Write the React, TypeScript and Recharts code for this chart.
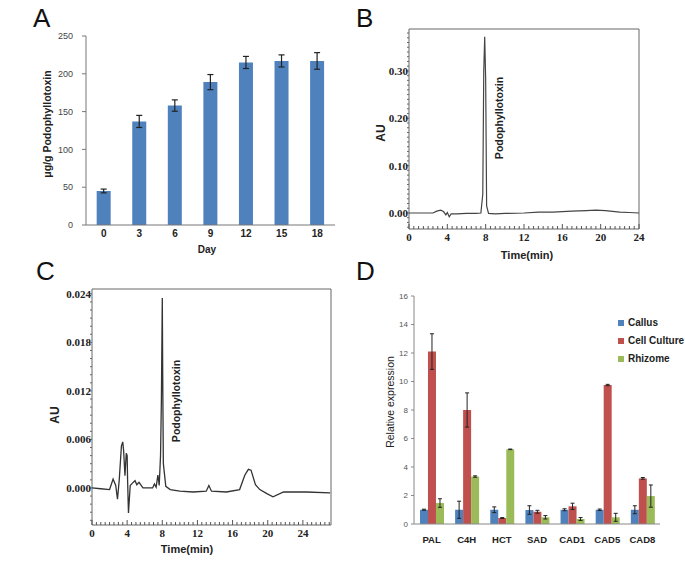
import React from "react";
import {
  BarChart, Bar, XAxis, YAxis, ErrorBar, LineChart, Line, ReferenceArea, Legend,
} from "recharts";

const SANS = "'Liberation Sans', Arial, sans-serif";
const SERIF = "'Liberation Serif', 'Times New Roman', serif";

// A - podophyllotoxin content over days
const days = ["0", "3", "6", "9", "12", "15", "18"];
const podoContent = [45, 137, 158, 189, 215, 217, 217];
const podoErr = [2.5, 8, 7.5, 10, 8, 8, 11];
const podoTicks = [0, 50, 100, 150, 200, 250];

// B - standard chromatogram
const stdTime = [0, 1, 2, 2.5, 2.9, 3.3, 3.6, 3.85, 4.0, 4.2, 4.4, 5, 6, 7, 7.5, 7.7, 7.8, 7.9, 8.0, 8.1, 8.3, 9, 10, 12, 13.5, 15, 17, 18.5, 19.5, 20.5, 22, 23, 24];
const stdAU = [0, 0, 0, 0, 0.004, 0.006, 0.003, -0.004, 0.001, -0.008, -0.002, -0.002, -0.001, -0.001, 0, 0.04, 0.298, 0.372, 0.282, 0.015, -0.001, -0.002, -0.001, 0, 0.002, 0.002, 0.004, 0.005, 0.006, 0.005, 0.002, 0.001, 0];
const stdXMajor = [0, 4, 8, 12, 16, 20, 24];
const stdYMajor = [0, 0.1, 0.2, 0.3];

// C - cell culture extract chromatogram
const extTime = [0, 1, 2, 2.4, 2.7, 2.9, 3.1, 3.35, 3.5, 3.6, 3.75, 3.9, 4.0, 4.05, 4.15, 4.35, 4.6, 4.9, 5.1, 5.35, 5.8, 6.5, 6.9, 7.1, 7.3, 7.5, 7.65, 7.8, 7.9, 8.0, 8.05, 8.12, 8.4, 8.9, 10, 11.5, 13, 13.3, 13.6, 15.3, 16.8, 17.4, 17.8, 18.1, 18.6, 19.1, 19.9, 20.6, 21.8, 22.9, 24.4, 27.1];
const extAU = [0, -0.0001, -0.0002, 0.0011, 0.0003, -0.0014, 0.001, 0.0052, 0.0057, 0.0046, 0.0015, 0.0043, 0.004, 0.001, -0.0031, 0.0003, 0.0006, 0.0009, 0.0004, 0.0007, 0, 0, 0, 0.0005, 0.0001, 0.0016, 0.0003, 0.004, 0.011, 0.0235, 0.0135, 0.003, 0.0002, -0.0002, -0.0004, -0.0005, -0.0004, 0.0003, -0.0004, -0.0005, -0.0002, 0.0016, 0.0023, 0.0022, 0.0004, -0.0002, -0.0007, -0.0011, -0.0005, -0.0005, -0.0005, -0.0006];
const extXMajor = [0, 4, 8, 12, 16, 20, 24];
const extYMajor = [0, 0.006, 0.012, 0.018, 0.024];

// D - relative expression
const genes = ["PAL", "C4H", "HCT", "SAD", "CAD1", "CAD5", "CAD8"];
const callus = [1, 1, 1, 0.98, 1, 1, 1];
const callusErr = [0.04, 0.6, 0.2, 0.3, 0.07, 0.05, 0.28];
const cellCulture = [12.1, 8.0, 0.42, 0.86, 1.24, 9.75, 3.2];
const cellCultureErr = [1.25, 1.2, 0.03, 0.1, 0.22, 0.05, 0.06];
const rhizome = [1.47, 3.33, 5.24, 0.47, 0.35, 0.47, 1.96];
const rhizomeErr = [0.3, 0.05, 0.02, 0.12, 0.1, 0.28, 0.78];
const exprTicks = [0, 2, 4, 6, 8, 10, 12, 14, 16];

const podoData = days.map((d, i) => ({ day: d, value: podoContent[i], err: podoErr[i] }));
const stdData = stdTime.map((t, i) => ({ t, au: stdAU[i] }));
const extData = extTime.map((t, i) => ({ t, au: extAU[i] }));
const exprData = genes.map((g, i) => ({
  gene: g,
  callus: callus[i], callusErr: callusErr[i],
  cell: cellCulture[i], cellErr: cellCultureErr[i],
  rhizome: rhizome[i], rhizomeErr: rhizomeErr[i],
}));

// minor tick positions for the chromatograms
function steps(start: number, stop: number, step: number) {
  const out: number[] = [];
  for (let i = 0; start + i * step <= stop + 1e-9; i++) out.push(Math.round((start + i * step) * 1e6) / 1e6);
  return out;
}
const isMajor = (majors: number[], v: number) => majors.some((m) => Math.abs(m - v) < 1e-7);

function xTick(majors: number[], fmt: (v: number) => string) {
  return (p: any) => {
    const v = p.payload.value;
    const major = isMajor(majors, v);
    return (
      <g>
        <line x1={p.x} x2={p.x} y1={p.y} y2={p.y - (major ? 5 : 3)} stroke="#555" strokeWidth={1} />
        {major && (
          <text x={p.x} y={p.y + 12} textAnchor="middle" fontFamily={SERIF} fontWeight="bold" fontSize={11} fill="#222">
            {fmt(v)}
          </text>
        )}
      </g>
    );
  };
}

function yTick(majors: number[], fmt: (v: number) => string) {
  return (p: any) => {
    const v = p.payload.value;
    const major = isMajor(majors, v);
    return (
      <g>
        <line x1={p.x} x2={p.x - (major ? 3 : 2)} y1={p.y} y2={p.y} stroke="#666" strokeWidth={1} />
        {major && (
          <text x={p.x - 1} y={p.y + 4} textAnchor="end" fontFamily={SERIF} fontWeight="bold" fontSize={11} fill="#222">
            {fmt(v)}
          </text>
        )}
      </g>
    );
  };
}

function Caption({ x, y, text, rotate = false, style }: { x: number; y: number; text: string; rotate?: boolean; style?: React.CSSProperties }) {
  return (
    <div
      style={{
        position: "absolute", left: x, top: y, whiteSpace: "nowrap", lineHeight: 1,
        transform: `translate(-50%, -50%)${rotate ? " rotate(-90deg)" : ""}`,
        fontFamily: SANS, fontWeight: "bold", fontSize: 10, color: "#222",
        ...style,
      }}
    >
      {text}
    </div>
  );
}

const letterStyle: React.CSSProperties = { position: "absolute", fontFamily: SANS, fontSize: 26, lineHeight: "26px", color: "#111" };

export default function App() {
  return (
    <div style={{ position: "absolute", left: 0, top: 0, width: 685, height: 573, background: "#fff", fontFamily: SANS }}>
      <div style={{ ...letterStyle, left: 33, top: 5 }}>A</div>
      <div style={{ ...letterStyle, left: 356, top: 5 }}>B</div>
      <div style={{ ...letterStyle, left: 36, top: 258 }}>C</div>
      <div style={{ ...letterStyle, left: 356, top: 258 }}>D</div>

      {/* A: content per day */}
      <div style={{ position: "absolute", left: 0, top: 0 }}>
        <BarChart width={345} height={265} data={podoData} margin={{ top: 36, right: 10, bottom: 5, left: 0 }} barCategoryGap="30%">
          <XAxis dataKey="day" height={35} tickLine={false} tickSize={0} tickMargin={5} stroke="#777"
            tick={{ fontSize: 10, fontWeight: "bold", fill: "#222", fontFamily: SANS }} interval={0} />
          <YAxis width={86} domain={[0, 250]} ticks={podoTicks} tickSize={4} tickMargin={9} stroke="#777"
            tick={{ fontSize: 9, fill: "#444", fontFamily: SANS }} interval={0} />
          <Bar dataKey="value" fill="#4F81BD" isAnimationActive={false}>
            <ErrorBar dataKey="err" width={3} stroke="#222" strokeWidth={1.2} />
          </Bar>
        </BarChart>
      </div>
      <Caption x={47} y={124} text="μg/g Podophyllotoxin" rotate style={{ fontSize: 10.5 }} />
      <Caption x={207} y={250} text="Day" />

      {/* B: standard */}
      <div style={{ position: "absolute", left: 340, top: 0 }}>
        <LineChart width={345} height={270} data={stdData} margin={{ top: 29, right: 46, bottom: 5, left: 0 }}>
          <XAxis dataKey="t" type="number" domain={[0, 24]} allowDataOverflow height={36} axisLine={false}
            tickLine={false} tickSize={0} tickMargin={0} ticks={steps(0, 24, 0.5)} interval={0}
            tick={xTick(stdXMajor, (v) => String(v))} />
          <YAxis type="number" domain={[-0.0338, 0.3885]} allowDataOverflow width={69} axisLine={false}
            tickLine={false} tickSize={0} tickMargin={0} ticks={steps(-0.03, 0.38, 0.01)} interval={0}
            tick={yTick(stdYMajor, (v) => v.toFixed(2))} />
          <ReferenceArea x1={0} x2={24} y1={-0.0338} y2={0.3885} fill="none" stroke="#666" strokeWidth={1} />
          <Line dataKey="au" type="linear" stroke="#444" strokeWidth={1.2} dot={false} isAnimationActive={false} />
        </LineChart>
      </div>
      <Caption x={381} y={133} text="AU" rotate style={{ fontSize: 12 }} />
      <Caption x={527} y={255} text="Time(min)" style={{ fontSize: 11 }} />
      <Caption x={499} y={118} text="Podophyllotoxin" rotate style={{ fontSize: 10.5 }} />

      {/* C: cell culture extract */}
      <div style={{ position: "absolute", left: 0, top: 270 }}>
        <LineChart width={345} height={303} data={extData} margin={{ top: 19, right: 14, bottom: 5, left: 0 }}>
          <XAxis dataKey="t" type="number" domain={[0, 27.2]} allowDataOverflow height={43} axisLine={false}
            tickLine={false} tickSize={0} tickMargin={0} ticks={steps(0, 27, 0.5)} interval={0}
            tick={xTick(extXMajor, (v) => String(v))} />
          <YAxis type="number" domain={[-0.00458, 0.0246]} allowDataOverflow width={92} axisLine={false}
            tickLine={false} tickSize={0} tickMargin={0} ticks={steps(-0.004, 0.024, 0.001)} interval={0}
            tick={yTick(extYMajor, (v) => v.toFixed(3))} />
          <ReferenceArea x1={0} x2={27.2} y1={-0.00458} y2={0.0246} fill="none" stroke="#666" strokeWidth={1} />
          <Line dataKey="au" type="linear" stroke="#333" strokeWidth={1.3} dot={false} isAnimationActive={false} />
        </LineChart>
      </div>
      <Caption x={55} y={415} text="AU" rotate style={{ fontSize: 12 }} />
      <Caption x={187} y={549} text="Time(min)" style={{ fontSize: 11 }} />
      <Caption x={176} y={401} text="Podophyllotoxin" rotate style={{ fontSize: 10.5 }} />

      {/* D: relative expression */}
      <div style={{ position: "absolute", left: 345, top: 270 }}>
        <BarChart width={340} height={303} data={exprData} margin={{ top: 26, right: 25, bottom: 5, left: 0 }}
          barCategoryGap="17%" barGap={0}>
          <XAxis dataKey="gene" height={44} tickLine={false} tickSize={0} tickMargin={12} stroke="#888"
            tick={{ fontSize: 9.5, fontWeight: "bold", fill: "#222", fontFamily: SANS }} interval={0} />
          <YAxis width={69} domain={[0, 16]} ticks={exprTicks} tickSize={3} tickMargin={3} stroke="#888"
            tick={{ fontSize: 8, fill: "#555", fontFamily: SANS }} interval={0} />
          <Legend layout="vertical" verticalAlign="middle" align="center" iconType="square" iconSize={6}
            wrapperStyle={{ top: 44, left: 273, width: 80, whiteSpace: "nowrap", lineHeight: "18px", fontSize: 10, fontWeight: "bold", fontFamily: SANS }}
            formatter={(v: string) => <span style={{ color: "#222" }}>{v}</span>} />
          <Bar dataKey="callus" name="Callus" fill="#4F81BD" isAnimationActive={false}>
            <ErrorBar dataKey="callusErr" width={2} stroke="#222" strokeWidth={1} />
          </Bar>
          <Bar dataKey="cell" name="Cell Culture" fill="#C0504D" isAnimationActive={false}>
            <ErrorBar dataKey="cellErr" width={2} stroke="#222" strokeWidth={1} />
          </Bar>
          <Bar dataKey="rhizome" name="Rhizome" fill="#9BBB59" isAnimationActive={false}>
            <ErrorBar dataKey="rhizomeErr" width={2} stroke="#222" strokeWidth={1} />
          </Bar>
        </BarChart>
      </div>
      <Caption x={390} y={402} text="Relative expression" rotate style={{ fontWeight: "normal", fontSize: 10.5 }} />
    </div>
  );
}
